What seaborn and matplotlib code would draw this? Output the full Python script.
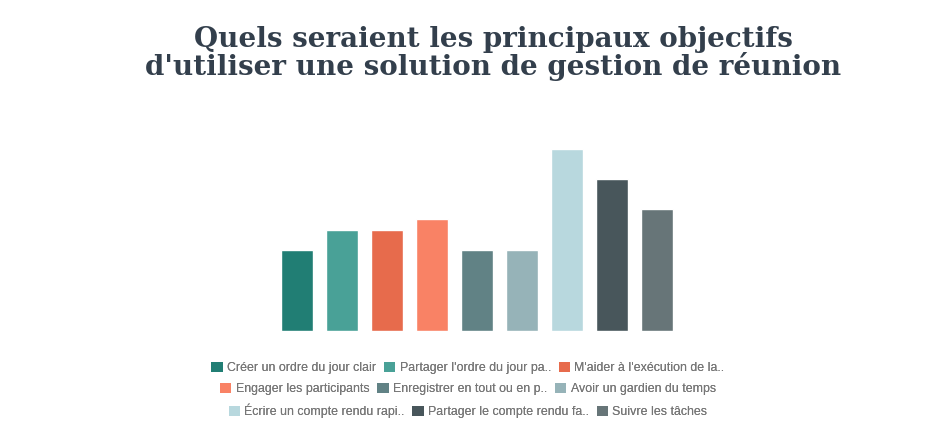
import matplotlib
matplotlib.use("Agg")
import matplotlib.pyplot as plt
import seaborn as sns
import pandas as pd
from matplotlib.patches import Patch

# Chart data
labels = [
    "Créer un ordre du jour clair",
    "Partager l'ordre du jour pa..",
    "M'aider à l'exécution de la..",
    "Engager les participants",
    "Enregistrer en tout ou en p..",
    "Avoir un gardien du temps",
    "Écrire un compte rendu rapi..",
    "Partager le compte rendu fa..",
    "Suivre les tâches",
]
values = [8, 10, 10, 11, 8, 8, 18, 15, 12]
colors = ["#217E74", "#49A197", "#E76B4C", "#F98265", "#618285",
          "#96B3B8", "#B8D8DE", "#48565B", "#677578"]
title = "Quels seraient les principaux objectifs\nd'utiliser une solution de gestion de réunion"

df = pd.DataFrame({"label": labels, "value": values})

sns.set_style("white")
plt.rcParams['font.family'] = ['Liberation Sans', 'DejaVu Sans']

fig = plt.figure(figsize=(9.27, 4.45), dpi=100)
ax = fig.add_axes([274.5 / 927, 114.5 / 445, 405 / 927, 202 / 445])

sns.barplot(data=df, x="label", y="value", hue="label", palette=colors,
            order=labels, hue_order=labels, width=0.69, legend=False,
            saturation=1, ax=ax)
ax.set_xlim(-0.5, 8.5)
ax.set_ylim(0, 20)
ax.axis("off")

fig.text(493 / 927, 1 - 53.5 / 445, title, ha="center", va="center",
         fontsize=20, fontweight="bold", family="DejaVu Serif",
         color="#333F4C", linespacing=0.98)

# legend laid out as three centred rows
handles = [Patch(facecolor=c, edgecolor="none") for c in colors]
rows_y = [368, 389, 411]
for i, y in enumerate(rows_y):
    leg = fig.legend(handles[i * 3:i * 3 + 3], labels[i * 3:i * 3 + 3],
                     loc="center", bbox_to_anchor=(468 / 927, 1 - y / 445),
                     ncol=3, frameon=False, fontsize=8.9,
                     handlelength=0.9, handleheight=0.9, handletextpad=0.35,
                     columnspacing=0.65, borderpad=0, labelcolor="#777777")
    fig.add_artist(leg)

fig.savefig("out.png", dpi=100)
